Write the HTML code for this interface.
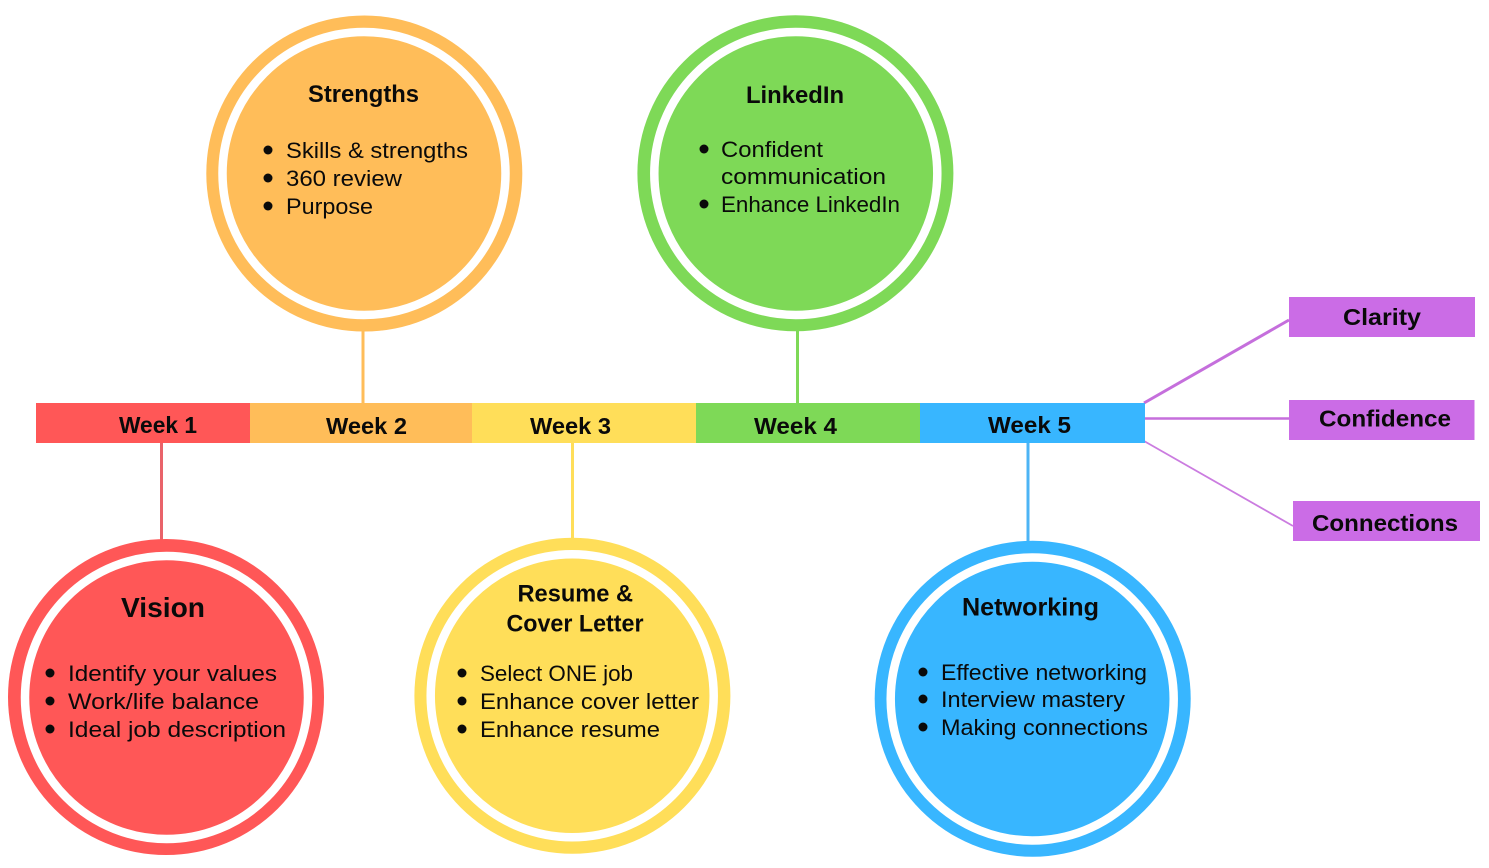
<!DOCTYPE html>
<html>
<head>
<meta charset="utf-8">
<style>
html,body{margin:0;padding:0;background:#fff;}
svg{display:block;filter:blur(0.3px);}
text{font-family:"Liberation Sans","DejaVu Sans",sans-serif;fill:#0a0a0a;}
.t{font-size:24px;font-weight:bold;-webkit-text-stroke:0.2px #0a0a0a;}
.b{font-size:22.5px;-webkit-text-stroke:0.5px #0a0a0a;}
.w{font-size:23.5px;font-weight:bold;-webkit-text-stroke:0.4px #0a0a0a;}
.r{fill:none;stroke:#fff;stroke-width:8.5;}
</style>
</head>
<body>
<svg width="1489" height="868" viewBox="0 0 1489 868" xmlns="http://www.w3.org/2000/svg">
<rect width="1489" height="868" fill="#fff"/>
<!-- connectors -->
<line x1="363" y1="325" x2="363" y2="404" stroke="#ffbd59" stroke-width="3"/>
<line x1="797.500" y1="325" x2="797.500" y2="404" stroke="#7ed957" stroke-width="3"/>
<line x1="161.500" y1="443" x2="161.500" y2="545" stroke="#e9636a" stroke-width="3"/>
<line x1="572.500" y1="443" x2="572.500" y2="545" stroke="#ffde59" stroke-width="3"/>
<line x1="1028" y1="443" x2="1028" y2="548" stroke="#4db4f5" stroke-width="3"/>
<line x1="1144" y1="403" x2="1289" y2="320" stroke="#c56fdc" stroke-width="3"/>
<line x1="1144" y1="418.500" x2="1289" y2="418.500" stroke="#c56fdc" stroke-width="2.500"/>
<line x1="1144" y1="441" x2="1293" y2="526" stroke="#cb7ce0" stroke-width="1.800"/>
<!-- bar -->
<rect x="36" y="403" width="214" height="40" fill="#ff5757"/>
<rect x="250" y="403" width="222" height="40" fill="#ffbd59"/>
<rect x="472" y="403" width="224" height="40" fill="#ffde59"/>
<rect x="696" y="403" width="224" height="40" fill="#7ed957"/>
<rect x="920" y="403" width="225" height="40" fill="#38b6ff"/>
<text class="w" x="119" y="433" textLength="78" lengthAdjust="spacingAndGlyphs">Week 1</text>
<text class="w" x="326" y="434" textLength="81" lengthAdjust="spacingAndGlyphs">Week 2</text>
<text class="w" x="530" y="434" textLength="81" lengthAdjust="spacingAndGlyphs">Week 3</text>
<text class="w" x="754" y="434" textLength="83" lengthAdjust="spacingAndGlyphs">Week 4</text>
<text class="w" x="988" y="433" textLength="83" lengthAdjust="spacingAndGlyphs">Week 5</text>
<!-- purple boxes -->
<rect x="1289" y="297" width="186" height="40" fill="#cb6ce6"/>
<rect x="1289" y="400" width="185.500" height="40" fill="#cb6ce6"/>
<rect x="1293" y="501" width="187" height="40" fill="#cb6ce6"/>
<text class="w" x="1343" y="325" textLength="78" lengthAdjust="spacingAndGlyphs">Clarity</text>
<text class="w" x="1319" y="426.500" textLength="132" lengthAdjust="spacingAndGlyphs">Confidence</text>
<text class="w" x="1312" y="531" textLength="146" lengthAdjust="spacingAndGlyphs">Connections</text>
<!-- circles -->
<circle cx="364.300" cy="173.500" r="158" fill="#ffbd59"/>
<circle class="r" cx="364" cy="173.500" r="141.500"/>
<circle cx="795.400" cy="173.300" r="158" fill="#7ed957"/>
<circle class="r" cx="795.800" cy="173.500" r="141.500"/>
<circle cx="166" cy="697" r="158" fill="#ff5757"/>
<circle class="r" cx="166.500" cy="697.500" r="141.500"/>
<circle cx="572.400" cy="695.800" r="158" fill="#ffde59"/>
<circle class="r" cx="572.200" cy="695.700" r="141.500"/>
<circle cx="1032.700" cy="698.700" r="158" fill="#38b6ff"/>
<circle class="r" cx="1032.200" cy="699" r="141.500"/>
<!-- Strengths -->
<text class="t" x="308" y="102" textLength="111" lengthAdjust="spacingAndGlyphs">Strengths</text>
<circle cx="268" cy="150" r="4.500" fill="#0a0a0a"/>
<circle cx="268" cy="178" r="4.500" fill="#0a0a0a"/>
<circle cx="268" cy="206" r="4.500" fill="#0a0a0a"/>
<text class="b" x="286" y="158" textLength="182" lengthAdjust="spacingAndGlyphs">Skills &amp; strengths</text>
<text class="b" x="286" y="186" textLength="116" lengthAdjust="spacingAndGlyphs">360 review</text>
<text class="b" x="286" y="214" textLength="87" lengthAdjust="spacingAndGlyphs">Purpose</text>
<!-- LinkedIn -->
<text class="t" x="746" y="103" textLength="98" lengthAdjust="spacingAndGlyphs">LinkedIn</text>
<circle cx="704" cy="149" r="4.500" fill="#0a0a0a"/>
<circle cx="704" cy="204" r="4.500" fill="#0a0a0a"/>
<text class="b" x="721" y="157" textLength="102" lengthAdjust="spacingAndGlyphs">Confident</text>
<text class="b" x="721" y="184" textLength="165" lengthAdjust="spacingAndGlyphs">communication</text>
<text class="b" x="721" y="212" textLength="179" lengthAdjust="spacingAndGlyphs">Enhance LinkedIn</text>
<!-- Vision -->
<text x="121" y="617" textLength="84" lengthAdjust="spacingAndGlyphs" style="font-size:28px;font-weight:bold;-webkit-text-stroke:0.2px #0a0a0a;">Vision</text>
<circle cx="50" cy="673" r="4.500" fill="#0a0a0a"/>
<circle cx="50" cy="701" r="4.500" fill="#0a0a0a"/>
<circle cx="50" cy="729" r="4.500" fill="#0a0a0a"/>
<text class="b" x="68" y="681" textLength="209" lengthAdjust="spacingAndGlyphs">Identify your values</text>
<text class="b" x="68" y="709" textLength="191" lengthAdjust="spacingAndGlyphs">Work/life balance</text>
<text class="b" x="68" y="737" textLength="218" lengthAdjust="spacingAndGlyphs">Ideal job description</text>
<!-- Resume -->
<text class="t" x="517.500" y="601.500" textLength="115.500" lengthAdjust="spacingAndGlyphs">Resume &amp;</text>
<text class="t" x="506.500" y="631.500" textLength="137" lengthAdjust="spacingAndGlyphs">Cover Letter</text>
<circle cx="462" cy="673" r="4.500" fill="#0a0a0a"/>
<circle cx="462" cy="701" r="4.500" fill="#0a0a0a"/>
<circle cx="462" cy="729" r="4.500" fill="#0a0a0a"/>
<text class="b" x="480" y="681" textLength="153" lengthAdjust="spacingAndGlyphs">Select ONE job</text>
<text class="b" x="480" y="709" textLength="219" lengthAdjust="spacingAndGlyphs">Enhance cover letter</text>
<text class="b" x="480" y="737" textLength="180" lengthAdjust="spacingAndGlyphs">Enhance resume</text>
<!-- Networking -->
<text x="962" y="615.500" textLength="137" lengthAdjust="spacingAndGlyphs" style="font-size:25px;font-weight:bold;-webkit-text-stroke:0.2px #0a0a0a;">Networking</text>
<circle cx="923" cy="672" r="4.500" fill="#0a0a0a"/>
<circle cx="923" cy="699" r="4.500" fill="#0a0a0a"/>
<circle cx="923" cy="727" r="4.500" fill="#0a0a0a"/>
<text class="b" x="941" y="680" textLength="206" lengthAdjust="spacingAndGlyphs">Effective networking</text>
<text class="b" x="941" y="707" textLength="184" lengthAdjust="spacingAndGlyphs">Interview mastery</text>
<text class="b" x="941" y="735" textLength="207" lengthAdjust="spacingAndGlyphs">Making connections</text>
</svg>
</body>
</html>
